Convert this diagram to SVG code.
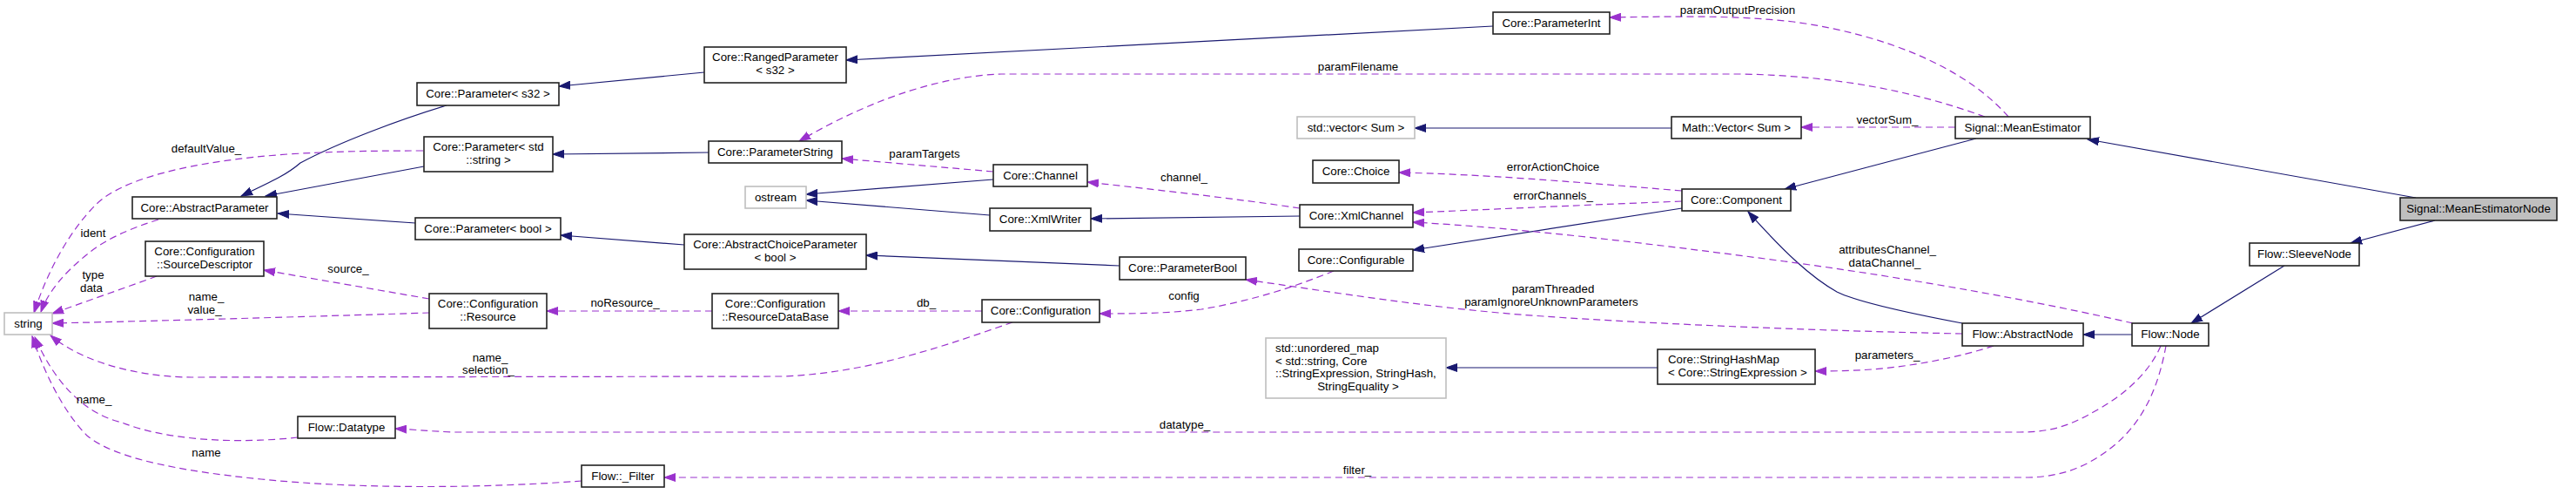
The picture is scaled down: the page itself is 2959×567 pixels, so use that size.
<svg xmlns="http://www.w3.org/2000/svg" width="2959" height="567" viewBox="0 0 2959 567">
<style>
text{font-family:"Liberation Sans",Arial,sans-serif;font-size:13.3px;fill:#000}
.n rect{fill:#fff;stroke:#222;stroke-width:1.6}
.g rect{fill:#fff;stroke:#bfbfbf;stroke-width:1.6}
.c{text-anchor:middle}
.inh{fill:none;stroke:#191970;stroke-width:1.2;marker-end:url(#ab)}
.use{fill:none;stroke:#9a32cd;stroke-width:1.2;stroke-dasharray:8,5;marker-end:url(#ap)}
.lbl{text-anchor:middle}
</style>
<defs>
<marker id="ab" markerWidth="14" markerHeight="10" refX="13" refY="5" orient="auto" markerUnits="userSpaceOnUse"><path d="M0,0.5 L13,5 L0,9.5 z" fill="#191970" stroke="#191970" stroke-width="1"/></marker>
<marker id="ap" markerWidth="14" markerHeight="10" refX="13" refY="5" orient="auto" markerUnits="userSpaceOnUse"><path d="M0,0.5 L13,5 L0,9.5 z" fill="#9a32cd" stroke="#9a32cd" stroke-width="1"/></marker>
</defs>
<rect width="2959" height="567" fill="#fff"/>
<g id="connectors">
<path class="inh" d="M513,121 C460,137 390,163 345,187 C330,200 315,207 277,225"/>
<path class="inh" d="M487,191 L305,225"/>
<path class="inh" d="M477,256 L319,245"/>
<path class="inh" d="M809,83 L642,99"/>
<path class="inh" d="M814,175 L635,177"/>
<path class="inh" d="M786,281 L644,270"/>
<path class="inh" d="M1715,30 L972,69"/>
<path class="inh" d="M1286,305 L995,293"/>
<path class="inh" d="M1141,206 L926,223"/>
<path class="inh" d="M1137,247 L926,230"/>
<path class="inh" d="M1493,248 L1253,251"/>
<path class="inh" d="M1932,239 L1623,287"/>
<path class="inh" d="M2270,159 L2050,217"/>
<path class="inh" d="M2254,371 C2180,357 2130,345 2110,335 C2080,318 2050,290 2008,243"/>
<path class="inh" d="M2775,227 L2398,160"/>
<path class="inh" d="M2797,253 L2700,279"/>
<path class="inh" d="M2624,305 L2517,371"/>
<path class="inh" d="M2449,384 L2393,384"/>
<path class="inh" d="M1904,422 L1661,422"/>
<path class="inh" d="M1920,147 L1625,147"/>

<path class="use" d="M2307,134 C2260,80 2170,40 2060,25 C1990,17 1920,19 1849,20"/>
<path class="use" d="M2280,134 C2200,105 2110,87 2000,85 L1150,85 C1090,87 1010,108 918,162"/>
<path class="use" d="M1141,197 L967,182"/>
<path class="use" d="M486,173 C420,173 380,174 330,177 C220,185 140,205 110,235 C80,265 55,310 39,359"/>
<path class="use" d="M182,252 C150,262 120,275 100,292 C75,312 55,335 47,358"/>
<path class="use" d="M180,317 C150,328 110,342 60,360"/>
<path class="use" d="M493,359 C400,362 200,368 60,371"/>
<path class="use" d="M493,343 L303,310"/>
<path class="use" d="M1163,370 C1090,395 1000,428 900,432 L220,433 C170,433 100,420 58,385"/>
<path class="use" d="M818,357 L628,357"/>
<path class="use" d="M1128,357 L963,357"/>
<path class="use" d="M1532,311 C1490,328 1440,345 1380,355 C1340,360 1300,360 1263,360"/>
<path class="use" d="M2254,383 C2100,380 1900,372 1773,363 C1650,355 1530,335 1431,321"/>
<path class="use" d="M1493,239 C1420,228 1330,218 1249,209"/>
<path class="use" d="M1932,219 C1800,208 1700,200 1607,198"/>
<path class="use" d="M1932,231 C1800,236 1700,241 1623,244"/>
<path class="use" d="M2450,371 C2350,348 2200,320 2050,300 C1900,280 1750,262 1623,255"/>
<path class="use" d="M2246,146 L2069,146"/>
<path class="use" d="M2290,397 C2250,410 2200,420 2150,424 C2120,426 2100,426 2085,426"/>
<path class="use" d="M2482,397 C2470,425 2445,450 2410,470 C2380,487 2360,496 2320,496 L520,496 C495,495 475,493 454,492"/>
<path class="use" d="M2488,397 C2480,440 2465,480 2430,510 C2400,535 2370,547 2330,548 L763,548"/>
<path class="use" d="M668,552 C560,560 420,562 300,550 C200,540 130,525 100,500 C70,470 48,420 37,386"/>
<path class="use" d="M342,502 C270,510 190,505 140,485 C110,478 70,455 40,387"/>

<text class="lbl" x="1996" y="16">paramOutputPrecision</text>
<text class="lbl" x="1560" y="81">paramFilename</text>
<text class="lbl" x="1062" y="181">paramTargets</text>
<text class="lbl" x="237" y="175">defaultValue_</text>
<text class="lbl" x="107" y="272">ident</text>
<text class="lbl" x="107" y="320">type</text>
<text class="lbl" x="105" y="335">data</text>
<text class="lbl" x="237" y="345">name_</text>
<text class="lbl" x="235" y="360">value_</text>
<text class="lbl" x="400" y="313">source_</text>
<text class="lbl" x="563" y="415">name_</text>
<text class="lbl" x="561" y="429">selection_</text>
<text class="lbl" x="718" y="352">noResource_</text>
<text class="lbl" x="1064" y="352">db_</text>
<text class="lbl" x="1360" y="344">config</text>
<text class="lbl" x="1784" y="336">paramThreaded</text>
<text class="lbl" x="1782" y="351">paramIgnoreUnknownParameters</text>
<text class="lbl" x="1360" y="208">channel_</text>
<text class="lbl" x="1784" y="196">errorActionChoice</text>
<text class="lbl" x="1784" y="229">errorChannels_</text>
<text class="lbl" x="2168" y="291">attributesChannel_</text>
<text class="lbl" x="2165" y="306">dataChannel_</text>
<text class="lbl" x="2168" y="142">vectorSum_</text>
<text class="lbl" x="2168" y="412">parameters_</text>
<text class="lbl" x="1361" y="492">datatype_</text>
<text class="lbl" x="1559" y="544">filter_</text>
<text class="lbl" x="108" y="463">name_</text>
<text class="lbl" x="237" y="524">name</text>
</g>

<g id="n_string" class="g"><rect x="5" y="359" width="55" height="25"/><text class="c" x="32.5" y="376">string</text></g>
<g id="n_abstractparameter" class="n"><rect x="152" y="226" width="166" height="25"/><text class="c" x="235" y="243">Core::AbstractParameter</text></g>
<g id="n_sourcedescriptor" class="n"><rect x="167" y="277" width="136" height="40"/><text class="c" x="235" y="293">Core::Configuration</text><text class="c" x="235" y="308">::SourceDescriptor</text></g>
<g id="n_param_s32" class="n"><rect x="479" y="95" width="163" height="26"/><text class="c" x="560.5" y="112">Core::Parameter&lt; s32 &gt;</text></g>
<g id="n_param_string" class="n"><rect x="487" y="157" width="148" height="40"/><text class="c" x="561" y="173">Core::Parameter&lt; std</text><text class="c" x="561" y="188">::string &gt;</text></g>
<g id="n_param_bool" class="n"><rect x="477" y="250" width="167" height="25"/><text class="c" x="560.5" y="267">Core::Parameter&lt; bool &gt;</text></g>
<g id="n_ranged" class="n"><rect x="809" y="54" width="163" height="41"/><text class="c" x="890.5" y="70">Core::RangedParameter</text><text class="c" x="890.5" y="85">&lt; s32 &gt;</text></g>
<g id="n_paramstring" class="n"><rect x="814" y="162" width="153" height="25"/><text class="c" x="890.5" y="179">Core::ParameterString</text></g>
<g id="n_ostream" class="g"><rect x="856" y="214" width="70" height="25"/><text class="c" x="891" y="231">ostream</text></g>
<g id="n_abstractchoice" class="n"><rect x="786" y="269" width="209" height="40"/><text class="c" x="890.5" y="285">Core::AbstractChoiceParameter</text><text class="c" x="890.5" y="300">&lt; bool &gt;</text></g>
<g id="n_resource" class="n"><rect x="493" y="337" width="135" height="40"/><text class="c" x="560.5" y="353">Core::Configuration</text><text class="c" x="560.5" y="368">::Resource</text></g>
<g id="n_resourcedb" class="n"><rect x="818" y="337" width="145" height="40"/><text class="c" x="890.5" y="353">Core::Configuration</text><text class="c" x="890.5" y="368">::ResourceDataBase</text></g>
<g id="n_datatype" class="n"><rect x="342" y="478" width="112" height="25"/><text class="c" x="398" y="495">Flow::Datatype</text></g>
<g id="n_filter" class="n"><rect x="668" y="534" width="95" height="25"/><text class="c" x="715.5" y="551">Flow::_Filter</text></g>
<g id="n_channel" class="n"><rect x="1141" y="189" width="108" height="25"/><text class="c" x="1195" y="206">Core::Channel</text></g>
<g id="n_xmlwriter" class="n"><rect x="1137" y="239" width="116" height="26"/><text class="c" x="1195" y="256">Core::XmlWriter</text></g>
<g id="n_parambool" class="n"><rect x="1286" y="295" width="145" height="26"/><text class="c" x="1358.5" y="312">Core::ParameterBool</text></g>
<g id="n_configuration" class="n"><rect x="1128" y="344" width="135" height="26"/><text class="c" x="1195.5" y="361">Core::Configuration</text></g>
<g id="n_paramint" class="n"><rect x="1715" y="14" width="134" height="25"/><text class="c" x="1782" y="31">Core::ParameterInt</text></g>
<g id="n_stdvector" class="g"><rect x="1490" y="134" width="135" height="25"/><text class="c" x="1557.5" y="151">std::vector&lt; Sum &gt;</text></g>
<g id="n_choice" class="n"><rect x="1508" y="184" width="99" height="26"/><text class="c" x="1557.5" y="201">Core::Choice</text></g>
<g id="n_xmlchannel" class="n"><rect x="1493" y="235" width="130" height="26"/><text class="c" x="1558" y="252">Core::XmlChannel</text></g>
<g id="n_configurable" class="n"><rect x="1492" y="286" width="131" height="25"/><text class="c" x="1557.5" y="303">Core::Configurable</text></g>
<g id="n_unordered_map" class="g"><rect x="1454" y="388" width="207" height="69"/><text x="1465" y="404">std::unordered_map</text><text x="1465" y="419">&lt; std::string, Core</text><text x="1465" y="433">::StringExpression, StringHash,</text><text class="c" x="1560" y="448">StringEquality &gt;</text></g>
<g id="n_stringhashmap" class="n"><rect x="1904" y="401" width="181" height="40"/><text x="1916" y="417">Core::StringHashMap</text><text x="1916" y="432">&lt; Core::StringExpression &gt;</text></g>
<g id="n_mathvector" class="n"><rect x="1920" y="134" width="149" height="25"/><text class="c" x="1994.5" y="151">Math::Vector&lt; Sum &gt;</text></g>
<g id="n_meanestimator" class="n"><rect x="2246" y="134" width="155" height="25"/><text class="c" x="2323.5" y="151">Signal::MeanEstimator</text></g>
<g id="n_component" class="n"><rect x="1932" y="217" width="125" height="25"/><text class="c" x="1994.5" y="234">Core::Component</text></g>
<g id="n_abstractnode" class="n"><rect x="2254" y="371" width="139" height="26"/><text class="c" x="2323.5" y="388">Flow::AbstractNode</text></g>
<g id="n_meanestimatornode" class="n"><rect x="2757" y="227" width="180" height="26" style="fill:#bfbfbf"/><text class="c" x="2847" y="244">Signal::MeanEstimatorNode</text></g>
<g id="n_sleevenode" class="n"><rect x="2584" y="279" width="126" height="26"/><text class="c" x="2647" y="296">Flow::SleeveNode</text></g>
<g id="n_node" class="n"><rect x="2449" y="371" width="88" height="26"/><text class="c" x="2493" y="388">Flow::Node</text></g>
</svg>
